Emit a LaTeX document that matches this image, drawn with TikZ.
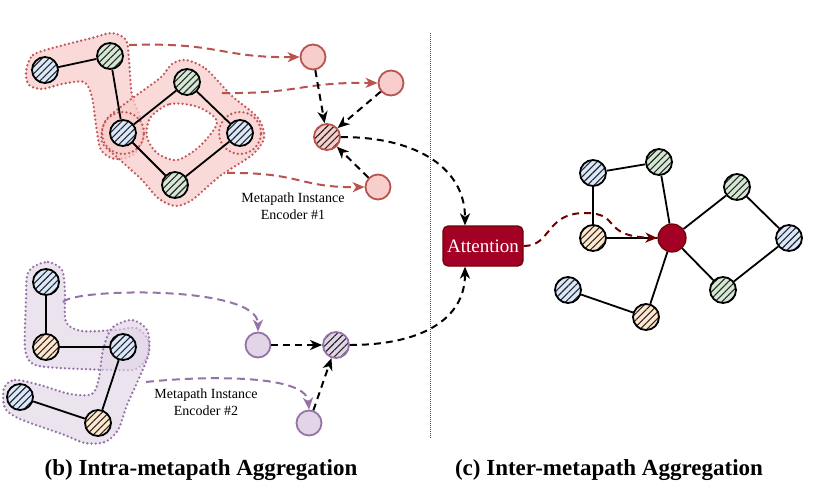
\documentclass[tikz,border=0pt]{standalone}
\usepackage{fontspec}
\setmainfont{Liberation Serif}
\usetikzlibrary{arrows.meta,patterns.meta,calc}
\definecolor{cBlue}{HTML}{DAE8FC}
\definecolor{cGreen}{HTML}{D5E8D4}
\definecolor{cOrange}{HTML}{FFE6CC}
\definecolor{cPink}{HTML}{F8CECC}
\definecolor{cPinkLine}{HTML}{B85450}
\definecolor{cPinkDot}{HTML}{C4575A}
\definecolor{cPurp}{HTML}{E1D5E7}
\definecolor{cPurpLine}{HTML}{9673A6}
\definecolor{cDark}{HTML}{A20025}
\definecolor{cDarkLine}{HTML}{6F0000}
\tikzset{
  gn/.style={circle, draw=black, line width=1.8pt, minimum size=26pt, inner sep=0pt},
  hatch/.style={pattern={Lines[angle=45,distance=4.8pt,line width=1.1pt]}, pattern color=black!85},
  bl/.style={gn, preaction={fill=cBlue}, hatch},
  gr/.style={gn, preaction={fill=cGreen}, hatch},
  orn/.style={gn, preaction={fill=cOrange}, hatch},
  tgR/.style={circle, draw=cPinkLine, fill=cPink, line width=1.8pt, minimum size=25pt, inner sep=0pt},
  tgP/.style={circle, draw=cPurpLine, fill=cPurp, line width=1.8pt, minimum size=25pt, inner sep=0pt},
  aggR/.style={circle, draw=cPinkLine, line width=1.8pt, minimum size=26pt, inner sep=0pt, preaction={fill=cPink}, hatch},
  aggP/.style={circle, draw=cPurpLine, line width=1.8pt, minimum size=26pt, inner sep=0pt, preaction={fill=cPurp}, hatch},
  hullR/.style={fill=cPink, fill opacity=0.75, draw=cPinkDot, line width=2.6pt, dash pattern=on 0pt off 4.2pt, line cap=round},
  hullP/.style={fill=cPurp, fill opacity=0.65, draw=cPurpLine, line width=2.6pt, dash pattern=on 0pt off 4.2pt, line cap=round},
  edge/.style={draw=black, line width=1.8pt},
  tip/.style={-{Stealth[length=12pt,width=10pt,inset=3.5pt]}},
  arrR/.style={draw=cPinkLine, line width=2pt, dash pattern=on 8pt off 5pt, tip},
  arrP/.style={draw=cPurpLine, line width=2pt, dash pattern=on 8pt off 5pt, tip},
  arrK/.style={draw=black, line width=2pt, dash pattern=on 7pt off 5pt, tip},
  arrD/.style={draw=cDarkLine, line width=2pt, dash pattern=on 7pt off 5pt, tip},
  lbl/.style={align=center, font=\fontsize{14}{17.5}\selectfont, inner sep=0pt},
  ttl/.style={font=\fontsize{23}{27}\selectfont\bfseries, inner sep=0pt},
}
\begin{document}
\begin{tikzpicture}[x=1pt,y=-1pt]
\useasboundingbox (0,0) rectangle (818,501);

% ---------- hulls (b) top ----------
\draw[hullR] plot[smooth cycle] coordinates {(26,72) (33,55) (60,46) (92,38) (112,33) (126,40) (129,60) (132,95) (141,120) (143,140) (133,155) (115,159) (101,150) (96,125) (92,97) (84,82) (62,84) (42,89) (29,85)};
\draw[hullR, even odd rule] plot[smooth cycle] coordinates {(186,60) (206,69) (232,96) (258,118) (264,138) (252,155) (220,176) (192,200) (175,206) (158,198) (142,180) (118,158) (102,142) (106,120) (130,100) (160,78) (172,64)}
  plot[smooth cycle] coordinates {(150,118) (170,104) (198,107) (217,122) (200,146) (177,160) (157,153) (147,137)};
\draw[hullR, fill opacity=0.3] (123,133) circle[radius=21pt];
\draw[hullR, fill opacity=0.3] (240,133) circle[radius=21pt];

% ---------- hulls (b) bottom ----------
\draw[hullP] plot[smooth cycle] coordinates {(33,267) (48,262) (62,270) (65,292) (66,322) (82,331) (115,330) (136,328) (148,340) (147,357) (136,369) (115,370) (60,368) (33,364) (25,348) (26,300) (27,276)};
\draw[hullP] plot[smooth cycle] coordinates {(4,388) (15,380) (40,385) (70,394) (92,394) (99,378) (103,350) (112,328) (132,320) (147,330) (149,352) (140,376) (127,405) (118,430) (105,442) (85,443) (62,434) (20,419) (5,408)};

% ---------- nodes (b) top ----------
\node[bl] (A) at (45,70) {};
\node[gr] (B) at (110,56) {};
\node[bl] (C) at (123,133) {};
\node[gr] (D) at (187,82) {};
\node[bl] (E) at (240,133) {};
\node[gr] (F) at (175,185) {};
\draw[edge] (A) -- (B) (B) -- (C) (C) -- (D) (D) -- (E) (E) -- (F) (F) -- (C);

\node[tgR] (T1) at (313,57) {};
\node[tgR] (T2) at (391,83) {};
\node[tgR] (T3) at (378,187) {};
\node[aggR] (G1) at (327,137) {};
\node[lbl] (enc1) at (293,206) {Metapath Instance\\Encoder \#1};

\coordinate (s1) at (129,45);
\coordinate (s2) at (222,93);
\coordinate (s3) at (227,173);
\draw[arrR] (s1) .. controls (220,42) and (220,58) .. (T1.west);
\draw[arrR] (s2) .. controls (300,94) and (300,82) .. (T2.west);
\draw[arrR] (s3) .. controls (300,172) and (300,188) .. (T3.west);

\draw[arrK] (T1) -- (G1);
\draw[arrK] (T2) -- (G1);
\draw[arrK] (T3) -- (G1);

% ---------- nodes (b) bottom ----------
\node[bl] (G) at (46,282) {};
\node[orn] (H) at (46,347) {};
\node[bl] (I) at (123,347) {};
\node[bl] (J) at (20,397) {};
\node[orn] (K) at (98,423) {};
\draw[edge] (G) -- (H) (H) -- (I) (I) -- (K) (K) -- (J);

\node[tgP] (P1) at (258,345) {};
\node[tgP] (P2) at (309,423) {};
\node[aggP] (G2) at (336,345) {};
\node[lbl] (enc2) at (206,402) {Metapath Instance\\Encoder \#2};

\coordinate (ps1) at (63,302);
\coordinate (ps2) at (146,382);
\draw[arrP] (ps1) .. controls (75,288) and (258,285) .. (P1.north);
\draw[arrP] (ps2) .. controls (190,377) and (306,372) .. (P2.north);

\draw[arrK] (P1) -- (G2);
\draw[arrK] (P2) -- (G2);

% ---------- divider ----------
\coordinate (dv1) at (430,33);
\coordinate (dv2) at (430,438);
\draw[black!70, line width=0.7pt, dash pattern=on 0.7pt off 1.3pt] (dv1) -- (dv2);

% ---------- attention ----------
\node[draw=cDarkLine, fill=cDark, line width=1.2pt, rounded corners=5pt, minimum width=80pt, minimum height=40pt, inner sep=0pt, text=white, font=\fontsize{19}{21}\selectfont] (att) at (483,246) {Attention};
\draw[arrK] (G1.east) .. controls (420,137) and (465,170) .. ($(att.north)+(-18,0)$);
\draw[arrK] (G2.east) .. controls (420,345) and (465,320) .. ($(att.south)+(-18,0)$);

% ---------- (c) graph ----------
\node[bl] (R1) at (593,173) {};
\node[gr] (R2) at (659,162) {};
\node[orn] (R3) at (593,238) {};
\node[circle, draw=cDarkLine, fill=cDark, line width=1.2pt, minimum size=28pt, inner sep=0pt] (Z) at (672,238) {};
\node[gr] (R4) at (737,187) {};
\node[bl] (R5) at (789,238) {};
\node[gr] (R6) at (723,290) {};
\node[bl] (R7) at (568,290) {};
\node[orn] (R8) at (646,317) {};
\draw[edge] (R1) -- (R2) (R1) -- (R3) (R3) -- (Z) (R2) -- (Z) (Z) -- (R4) (R4) -- (R5) (R5) -- (R6) (R6) -- (Z) (Z) -- (R8) (R8) -- (R7);

\draw[arrD] (att.east) .. controls (552,246) and (545,213) .. (585,213) .. controls (622,213) and (600,236) .. (Z.west);

% ---------- titles ----------
\node[ttl] (tb) at (201,470) {(b) Intra-metapath Aggregation};
\node[ttl] (tc) at (609,470) {(c) Inter-metapath Aggregation};
\end{tikzpicture}
\end{document}
